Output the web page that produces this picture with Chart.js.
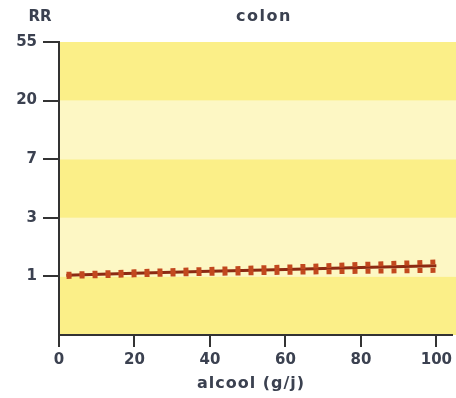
<!DOCTYPE html>
<html>
<head>
<meta charset="utf-8">
<script src="https://cdn.jsdelivr.net/npm/chart.js@4/dist/chart.umd.min.js"></script>
<style>
  html, body { margin: 0; padding: 0; background: #fff; }
  canvas { display: block; }
</style>
</head>
<body>
<canvas id="rrChart" width="456" height="398"></canvas>
<script>
// données
const doses = [2, 20, 40, 60, 80, 100];
const rr = [1.02, 1.06, 1.10, 1.14, 1.18, 1.22];
const rrHaut = [1.04, 1.09, 1.14, 1.19, 1.25, 1.31];
const rrBas = [1.00, 1.03, 1.06, 1.08, 1.10, 1.12];
const tickRR = [1, 3, 7, 20, 55];
const xTicks = [0, 20, 40, 60, 80, 100];

// l'axe RR est gradué à pas égaux : 1, 3, 7, 20, 55
function posRR(v) {
    if (v <= tickRR[0]) return 1 + Math.log(v / tickRR[0]) / Math.log(tickRR[1] / tickRR[0]);
    for (let i = 0; i < tickRR.length - 1; i++) {
        if (v <= tickRR[i + 1]) {
            return i + 1 + Math.log(v / tickRR[i]) / Math.log(tickRR[i + 1] / tickRR[i]);
        }
    }
    return tickRR.length;
}
const pts = arr => doses.map((d, i) => ({ x: d, y: posRR(arr[i]) }));

const TXT = '#3b4150';
const FONT = 'DejaVu Sans';

const bandes = {
    id: 'bandes',
    beforeDraw(chart) {
        const { ctx, chartArea: a, scales: { y } } = chart;
        const couleurs = ['#fbef88', '#fdf7c4'];
        for (let i = 0; i < 5; i++) {
            const top = y.getPixelForValue(i + 1);
            const bot = y.getPixelForValue(i);
            ctx.fillStyle = couleurs[i % 2];
            ctx.fillRect(a.left, top, chart.width - a.left, bot - top);
        }
    },
    afterDraw(chart) {
        const ctx = chart.ctx;
        ctx.save();
        ctx.fillStyle = TXT;
        ctx.textAlign = 'center';
        ctx.textBaseline = 'middle';
        ctx.font = 'bold 15px ' + FONT;
        ctx.fillText('RR', 40, 17);
        ctx.font = 'bold 16px ' + FONT;
        ctx.letterSpacing = '1.5px';
        ctx.fillText('colon', 264, 17);
        ctx.letterSpacing = '1px';
        ctx.fillText('alcool (g/j)', 251, 384);
        ctx.restore();
    }
};

new Chart(document.getElementById('rrChart'), {
    type: 'line',
    data: {
        datasets: [
            {
                data: pts(rrHaut),
                borderColor: '#c2481e',
                borderWidth: 5,
                borderDash: [5, 8],
                pointRadius: 0
            },
            {
                data: pts(rrBas),
                borderColor: '#c2481e',
                borderWidth: 5,
                borderDash: [5, 8],
                pointRadius: 0
            },
            {
                data: pts(rr),
                borderColor: '#8c2a12',
                borderWidth: 3,
                pointRadius: 0
            }
        ]
    },
    options: {
        responsive: false,
        animation: false,
        layout: { padding: { top: 42, right: 0, left: 0, bottom: 0 } },
        plugins: {
            legend: { display: false },
            tooltip: { enabled: false }
        },
        scales: {
            x: {
                type: 'linear',
                min: 0,
                max: 104.2,
                afterBuildTicks: s => { s.ticks = xTicks.map(v => ({ value: v })); },
                afterFit: s => { s.height = 63; },
                border: { display: true, color: '#333', width: 2 },
                grid: { drawOnChartArea: false, drawTicks: true, tickLength: 12, color: '#333', lineWidth: 2 },
                ticks: { color: TXT, font: { family: FONT, size: 15, weight: 'bold' }, padding: 4, maxRotation: 0 }
            },
            y: {
                type: 'linear',
                min: 0,
                max: 5,
                afterBuildTicks: s => { s.ticks = tickRR.map((v, i) => ({ value: i + 1 })); },
                afterFit: s => { s.width = 59; },
                border: { display: true, color: '#333', width: 2 },
                grid: { drawOnChartArea: false, drawTicks: true, tickLength: 16, color: '#333', lineWidth: 2 },
                ticks: {
                    color: TXT,
                    font: { family: FONT, size: 15, weight: 'bold' },
                    padding: 6,
                    callback: v => tickRR[v - 1]
                }
            }
        }
    },
    plugins: [bandes]
});
</script>
</body>
</html>
